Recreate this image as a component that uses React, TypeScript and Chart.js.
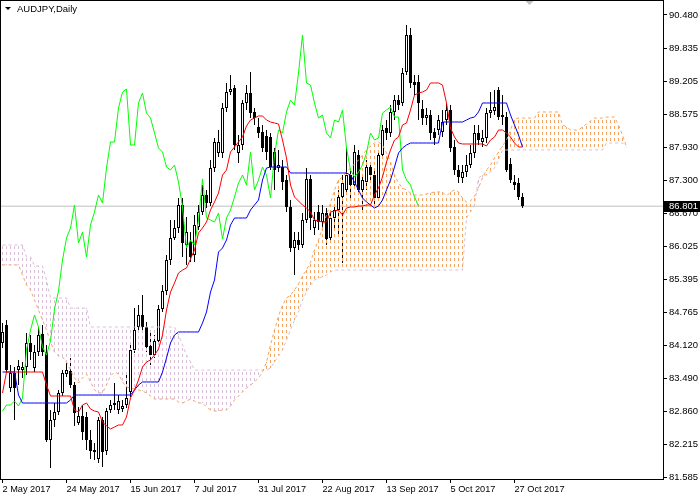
import React, { useEffect, useRef } from 'react';
import { Chart, registerables } from 'chart.js';

Chart.register(...registerables);

const symbolTitle = 'AUDJPY,Daily';
const dateTickBars = [0, 16, 32, 48, 64, 80, 96, 112, 128];
const dateTickLabels = ['2 May 2017', '24 May 2017', '15 Jun 2017', '7 Jul 2017', '31 Jul 2017', '22 Aug 2017', '13 Sep 2017', '5 Oct 2017', '27 Oct 2017'];
const priceTicks = [90.48, 89.835, 89.205, 88.575, 87.93, 87.3, 86.67, 86.025, 85.395, 84.765, 84.12, 83.49, 82.86, 82.215, 81.585];
const lastPrice = 86.801;
const chikouShift = 26;

const opens = [
  84.169, 84.515, 83.303, 83.592, 83.649, 83.649, 83.707, 84.169, 83.688, 83.996,
  84.342, 83.996, 82.303, 82.687, 82.841, 83.207, 83.573, 83.630, 83.361, 82.630,
  82.764, 82.745, 82.303, 82.110, 81.937, 82.687, 82.091, 82.880, 83.014, 82.880,
  82.899, 82.976, 83.226, 84.035, 84.477, 84.708, 84.477, 84.111, 83.938, 84.208,
  84.823, 85.169, 85.766, 86.189, 86.382, 86.824, 86.055, 86.112, 85.862, 86.401,
  86.690, 87.017, 86.863, 87.536, 87.825, 87.825, 88.691, 88.998, 89.075, 87.825,
  87.979, 88.787, 88.979, 88.614, 88.325, 88.229, 88.152, 88.133, 87.844, 87.536,
  87.555, 87.305, 86.786, 85.997, 86.151, 86.055, 86.536, 87.325, 86.382, 86.690,
  86.497, 86.670, 86.189, 86.574, 86.728, 86.978, 87.113, 87.401, 87.209, 87.786,
  87.113, 87.267, 87.555, 87.401, 86.959, 87.786, 88.306, 88.210, 88.614, 88.844,
  88.787, 89.383, 90.095, 89.191, 89.191, 88.671, 88.498, 88.556, 88.229, 88.267,
  88.229, 88.460, 88.652, 87.940, 87.498, 87.344, 87.459, 87.594, 87.825, 88.210,
  88.036, 88.113, 88.594, 88.633, 89.037, 88.556, 88.517, 87.613, 87.267, 87.248,
  86.978,
];
const highs = [
  84.554, 84.611, 83.746, 83.707, 83.842, 83.803, 84.361, 84.323, 84.131, 84.477,
  84.515, 84.131, 82.880, 83.014, 83.265, 83.649, 83.784, 83.880, 83.419, 82.937,
  82.976, 82.841, 82.495, 82.245, 82.745, 82.745, 82.918, 83.072, 83.399, 83.168,
  83.072, 83.592, 84.131, 84.842, 84.900, 85.092, 84.573, 84.361, 84.323, 84.900,
  85.285, 85.862, 86.536, 86.536, 86.959, 86.959, 86.593, 86.305, 86.632, 86.824,
  87.209, 87.113, 87.690, 88.113, 88.267, 88.787, 89.172, 89.326, 89.133, 88.171,
  88.844, 89.133, 89.383, 88.691, 88.498, 88.364, 88.267, 88.210, 87.921, 87.883,
  87.690, 87.401, 86.920, 86.305, 86.305, 86.670, 87.536, 87.401, 86.690, 86.824,
  86.824, 86.766, 86.728, 86.824, 87.113, 87.401, 87.940, 87.498, 87.979, 87.883,
  87.401, 87.690, 87.652, 87.498, 87.883, 88.364, 88.460, 88.748, 88.941, 88.941,
  89.460, 90.288, 90.230, 89.326, 89.326, 88.844, 88.691, 88.652, 88.306, 88.556,
  88.652, 88.787, 88.748, 88.075, 87.594, 87.594, 87.786, 87.979, 88.364, 88.364,
  88.267, 88.691, 88.998, 89.037, 89.095, 88.941, 88.614, 87.729, 87.401, 87.344,
  87.055,
];
const lows = [
  84.073, 83.611, 83.226, 82.687, 83.361, 83.496, 83.553, 83.842, 83.611, 83.919,
  83.919, 82.264, 81.764, 82.553, 82.783, 83.149, 83.515, 83.303, 82.572, 82.591,
  82.303, 82.110, 81.937, 81.918, 81.860, 81.783, 82.014, 82.822, 82.880, 82.803,
  82.841, 82.918, 83.130, 83.977, 84.419, 84.419, 83.996, 83.746, 83.880, 84.131,
  84.765, 85.092, 85.670, 86.151, 86.286, 85.824, 85.670, 85.727, 85.727, 86.343,
  86.632, 86.766, 86.805, 87.459, 87.748, 87.729, 88.614, 88.941, 87.883, 87.632,
  87.883, 88.652, 88.498, 88.364, 88.113, 87.844, 87.690, 87.498, 87.113, 87.459,
  87.113, 86.690, 85.920, 85.477, 85.958, 85.997, 86.478, 86.343, 86.247, 86.343,
  86.382, 86.055, 86.112, 86.382, 86.247, 85.708, 87.017, 86.920, 87.152, 87.017,
  86.728, 87.113, 87.305, 86.824, 86.920, 87.729, 88.075, 88.133, 88.460, 88.652,
  88.729, 89.326, 89.075, 88.941, 88.460, 88.364, 88.364, 88.075, 87.979, 88.171,
  88.133, 88.364, 87.844, 87.401, 87.248, 87.248, 87.363, 87.536, 87.729, 87.979,
  87.940, 88.017, 88.498, 88.556, 88.460, 88.364, 87.459, 87.248, 87.113, 86.920,
  86.766,
];
const closes = [
  84.381, 83.649, 83.592, 83.303, 83.726, 83.707, 84.169, 83.996, 83.996, 84.323,
  83.996, 82.303, 82.687, 82.841, 83.207, 83.592, 83.649, 83.361, 82.822, 82.764,
  82.457, 82.303, 82.091, 82.072, 82.687, 82.072, 82.860, 82.976, 82.976, 83.053,
  82.957, 83.111, 84.035, 84.419, 84.708, 84.477, 84.092, 83.938, 84.208, 84.823,
  85.169, 85.766, 86.189, 86.382, 86.824, 86.093, 86.305, 85.824, 86.439, 86.690,
  87.017, 86.863, 87.536, 88.036, 88.036, 88.691, 88.998, 89.056, 87.979, 87.979,
  88.787, 88.979, 88.594, 88.498, 88.210, 87.921, 87.844, 87.555, 87.498, 87.594,
  87.267, 86.786, 85.997, 86.151, 86.055, 86.536, 87.325, 86.574, 86.536, 86.497,
  86.670, 86.170, 86.574, 86.728, 86.978, 87.248, 87.401, 87.209, 87.844, 87.113,
  87.305, 87.555, 87.401, 86.959, 87.786, 88.267, 88.210, 88.614, 88.844, 88.748,
  89.364, 90.095, 89.172, 89.133, 88.787, 88.498, 88.556, 88.210, 88.113, 88.460,
  88.421, 88.652, 87.921, 87.498, 87.363, 87.459, 87.594, 87.825, 88.210, 88.075,
  88.113, 88.594, 88.652, 88.710, 88.517, 88.517, 87.498, 87.305, 87.209, 86.978,
  86.801,
];
const tenkan = [
  83.207, 83.611, 83.611, 83.611, 83.611, 83.611, 83.611, 83.611, 83.611, 83.611,
  83.611, 83.361, 83.149, 83.149, 83.149, 83.149, 83.149, 83.149, 82.880, 82.841,
  82.976, 83.014, 82.899, 82.860, 82.841, 82.649, 82.572, 82.514, 82.553, 82.591,
  82.591, 82.745, 83.111, 83.265, 83.457, 83.707, 83.803, 83.842, 83.938, 84.053,
  84.323, 84.804, 85.150, 85.324, 85.516, 85.573, 85.612, 85.785, 85.958, 86.286,
  86.382, 86.497, 86.728, 86.882, 87.055, 87.401, 87.498, 87.844, 87.940, 88.036,
  88.133, 88.344, 88.460, 88.498, 88.537, 88.537, 88.460, 88.421, 88.402, 88.383,
  88.075, 87.729, 87.209, 86.978, 86.901, 86.824, 86.766, 86.690, 86.536, 86.516,
  86.497, 86.497, 86.690, 86.709, 86.728, 86.632, 86.766, 86.786, 86.786, 86.805,
  86.805, 86.824, 86.824, 87.017, 87.152, 87.363, 87.652, 87.883, 88.075, 88.133,
  88.364, 88.402, 88.652, 88.941, 88.979, 88.998, 89.037, 89.172, 89.172, 89.172,
  89.133, 88.787, 88.306, 88.133, 88.017, 87.998, 87.998, 87.998, 87.998, 87.998,
  87.998, 87.959, 88.075, 88.133, 88.267, 88.267, 88.210, 88.133, 88.017, 87.940,
  87.940,
];
const kijun = [
  83.611, 83.611, 83.611, 83.611, 83.168, 83.014, 83.014, 83.014, 83.014, 83.014,
  83.014, 83.014, 83.014, 83.014, 83.014, 83.014, 83.014, 83.072, 83.168, 83.168,
  83.168, 83.168, 83.168, 83.168, 83.168, 83.168, 83.168, 83.168, 83.168, 83.168,
  83.168, 83.168, 83.168, 83.265, 83.361, 83.419, 83.419, 83.419, 83.419, 83.419,
  83.611, 83.880, 84.169, 84.323, 84.381, 84.381, 84.381, 84.381, 84.381, 84.381,
  84.554, 84.765, 85.150, 85.381, 85.920, 85.997, 86.151, 86.439, 86.574, 86.574,
  86.574, 86.574, 86.728, 86.824, 86.920, 87.305, 87.536, 87.555, 87.555, 87.555,
  87.555, 87.555, 87.440, 87.440, 87.440, 87.440, 87.440, 87.440, 87.440, 87.440,
  87.440, 87.440, 87.440, 87.440, 87.440, 87.440, 87.440, 87.401, 87.267, 87.113,
  86.959, 86.882, 86.824, 86.766, 86.805, 86.920, 87.113, 87.305, 87.555, 87.825,
  87.921, 87.979, 88.017, 88.017, 88.017, 88.017, 88.017, 88.017, 88.017, 88.017,
  88.421, 88.421, 88.421, 88.421, 88.421, 88.421, 88.460, 88.498, 88.517, 88.614,
  88.787, 88.787, 88.787, 88.787, 88.787, 88.787, 88.787, 88.556, 88.364, 88.171,
  87.940,
];
const spanA = [
  85.670, 85.670, 85.670, 85.670, 85.670, 85.477, 85.285, 85.189, 84.996, 84.804,
  84.611, 84.419, 84.188, 83.996, 83.919, 83.900, 83.803, 83.649, 83.496, 83.399,
  83.496, 83.573, 83.419, 83.265, 83.207, 83.207, 83.361, 83.534, 83.611, 83.573,
  83.419, 83.322, 83.303, 83.284, 83.265, 83.245, 83.207, 83.149, 83.091, 83.091,
  83.091, 83.091, 83.091, 83.091, 83.034, 83.014, 83.053, 83.091, 83.053, 83.014,
  83.014, 82.937, 82.880, 82.860, 82.860, 82.880, 82.880, 82.957, 83.072, 83.149,
  83.226, 83.303, 83.361, 83.419, 83.496, 83.611, 83.803, 84.131, 84.419, 84.688,
  84.900, 85.035, 85.092, 85.189, 85.304, 85.458, 85.573, 85.727, 85.958, 86.151,
  86.382, 86.632, 86.863, 87.113, 87.305, 87.363, 87.459, 87.536, 87.613, 87.690,
  87.786, 87.883, 87.959, 88.017, 88.036, 87.979, 87.825, 87.652, 87.401, 87.248,
  87.152, 87.113, 87.055, 87.017, 87.017, 87.017, 87.036, 87.055, 87.075, 87.075,
  87.075, 86.997, 87.075, 87.113, 87.075, 86.959, 86.882, 86.901, 86.997, 87.152,
  87.344, 87.498, 87.594, 87.729, 87.844, 87.959, 88.075, 88.267, 88.479, 88.498,
  88.498, 88.498, 88.498, 88.498, 88.614, 88.614, 88.614, 88.614, 88.614, 88.614,
  88.364, 88.325, 88.267, 88.267, 88.267, 88.325, 88.383, 88.440, 88.498, 88.498,
  88.498, 88.517, 88.517, 88.517, 88.364, 88.171, 87.940,
];
const spanB = [
  86.055, 86.055, 86.055, 86.055, 86.055, 86.055, 85.824, 85.824, 85.651, 85.651,
  85.651, 85.381, 85.035, 85.035, 85.035, 85.035, 85.035, 84.842, 84.842, 84.842,
  84.842, 84.842, 84.477, 84.477, 84.477, 84.477, 84.477, 84.477, 84.477, 84.477,
  84.477, 84.477, 84.477, 84.477, 84.477, 84.477, 84.477, 84.477, 84.477, 84.477,
  84.477, 84.477, 84.477, 84.477, 84.323, 84.131, 83.938, 83.803, 83.649, 83.649,
  83.649, 83.649, 83.649, 83.649, 83.649, 83.649, 83.649, 83.649, 83.649, 83.649,
  83.649, 83.649, 83.649, 83.649, 83.649, 83.649, 83.649, 83.688, 83.803, 83.919,
  84.035, 84.227, 84.419, 84.611, 84.765, 84.996, 85.150, 85.285, 85.381, 85.420,
  85.439, 85.477, 85.535, 85.573, 85.573, 85.573, 85.573, 85.573, 85.573, 85.573,
  85.573, 85.573, 85.573, 85.573, 85.573, 85.573, 85.573, 85.573, 85.573, 85.573,
  85.573, 85.573, 85.573, 85.573, 85.573, 85.573, 85.573, 85.573, 85.573, 85.573,
  85.573, 85.573, 85.573, 85.573, 85.573, 85.573, 86.574, 86.690, 86.824, 87.344,
  87.401, 87.401, 87.459, 87.536, 87.690, 87.883, 87.883, 87.883, 87.883, 87.883,
  87.883, 87.883, 87.883, 87.883, 87.883, 87.883, 87.883, 87.883, 87.883, 87.883,
  87.883, 87.883, 87.883, 87.883, 87.883, 87.883, 87.883, 87.883, 87.883, 87.883,
  87.883, 88.017, 88.017, 88.017, 88.017, 88.017, 87.940,
];

// axis window
const X_MIN = -0.625;
const X_MAX = 165.125;
const Y_MAX = 90.7686;
const Y_MIN = 81.5523;

const FONT = '"Liberation Sans", Arial, sans-serif';

export default function App() {
  const ref = useRef<HTMLCanvasElement | null>(null);

  useEffect(() => {
    const canvas = ref.current;
    if (!canvas) return;
    const mainCtx = canvas.getContext('2d') as CanvasRenderingContext2D;

    const makeHatch = (color: string) => {
      const c = document.createElement('canvas');
      c.width = 1;
      c.height = 6;
      const g = c.getContext('2d') as CanvasRenderingContext2D;
      g.fillStyle = color;
      g.fillRect(0, 0, 1, 3);
      return mainCtx.createPattern(c, 'repeat') as CanvasPattern;
    };
    const orangeHatch = makeHatch('#F4A460');
    const thistleHatch = makeHatch('#D8BFD8');

    const bodies = opens.map((o, i) => ({ x: i, y: [o, closes[i]] }));
    const bodyFill = opens.map((o, i) => (closes[i] >= o ? '#FFFFFF' : '#000000'));
    const wicks = lows.map((l, i) => ({ x: i, y: [l, highs[i]] }));
    const bullCloud: any[] = [];
    const bearCloud: any[] = [];
    spanA.forEach((a, j) => {
      const b = spanB[j];
      const item = { x: j, y: [Math.min(a, b), Math.max(a, b)] };
      if (a >= b) bullCloud.push(item);
      else bearCloud.push(item);
    });
    const line = (arr: number[], shift: number) =>
      arr.map((v, i) => ({ x: i + shift, y: v })).filter((p) => p.x >= 0);

    const overlay = {
      id: 'overlay',
      beforeDraw(chart: any) {
        const c = chart.ctx;
        c.save();
        c.fillStyle = '#FFFFFF';
        c.fillRect(0, 0, chart.width, chart.height);
        c.restore();
      },
      afterDraw(chart: any) {
        const c = chart.ctx as CanvasRenderingContext2D;
        const a = chart.chartArea;
        c.save();
        c.strokeStyle = '#000000';
        c.lineWidth = 1;
        c.strokeRect(a.left + 0.5, a.top + 0.5, a.right - a.left, a.bottom - a.top);
        // title
        c.fillStyle = '#000000';
        c.beginPath();
        c.moveTo(5, 7);
        c.lineTo(11, 7);
        c.lineTo(8, 10);
        c.closePath();
        c.fill();
        c.font = '9.5px ' + FONT;
        c.textBaseline = 'middle';
        c.textAlign = 'left';
        c.fillText(symbolTitle, 17, 9);
        // shift marker
        const sx = chart.scales.x.getPixelForValue(opens.length - 1) + 7;
        c.fillStyle = '#C0C0C0';
        c.beginPath();
        c.moveTo(sx - 4, 1);
        c.lineTo(sx + 4, 1);
        c.lineTo(sx, 5);
        c.closePath();
        c.fill();
        // last price box
        const py = Math.round(chart.scales.y.getPixelForValue(lastPrice));
        c.fillStyle = '#000000';
        c.fillRect(a.right + 1, py - 5, chart.width - a.right - 1, 11);
        c.fillStyle = '#FFFFFF';
        c.font = '9.5px ' + FONT;
        c.textBaseline = 'middle';
        c.fillText(lastPrice.toFixed(3), a.right + 6, py + 0.5);
        c.restore();
      },
    };

    const barCommon = {
      grouped: false,
      inflateAmount: 0,
      borderSkipped: false,
    };

    const chart = new Chart(canvas, {
      type: 'bar',
      data: {
        datasets: [
          {
            type: 'line',
            label: 'Tenkan-sen',
            data: line(tenkan, 0),
            borderColor: '#FF0000',
            borderWidth: 1,
            pointRadius: 0,
            tension: 0,
            order: 0,
          } as any,
          {
            type: 'line',
            label: 'Kijun-sen',
            data: line(kijun, 0),
            borderColor: '#0000FF',
            borderWidth: 1,
            pointRadius: 0,
            tension: 0,
            order: 0,
          } as any,
          {
            type: 'line',
            label: 'Chikou Span',
            data: line(closes, -chikouShift),
            borderColor: '#00FF00',
            borderWidth: 1,
            pointRadius: 0,
            tension: 0,
            order: 0,
          } as any,
          {
            type: 'line',
            label: 'Senkou Span A',
            data: line(spanA, 0),
            borderColor: '#F4A460',
            borderWidth: 1,
            borderDash: [3, 3],
            pointRadius: 0,
            tension: 0,
            order: 1,
          } as any,
          {
            type: 'line',
            label: 'Senkou Span B',
            data: line(spanB, 0),
            borderColor: '#D8BFD8',
            borderWidth: 1,
            borderDash: [3, 3],
            pointRadius: 0,
            tension: 0,
            order: 1,
          } as any,
          {
            type: 'bar',
            label: 'Bodies',
            data: bodies,
            backgroundColor: bodyFill,
            borderColor: '#000000',
            borderWidth: 1,
            barThickness: 3,
            minBarLength: 1,
            order: 2,
            ...barCommon,
          } as any,
          {
            type: 'bar',
            label: 'Cloud up',
            data: bullCloud,
            backgroundColor: orangeHatch,
            borderWidth: 0,
            barThickness: 1,
            order: 3,
            ...barCommon,
          } as any,
          {
            type: 'bar',
            label: 'Cloud down',
            data: bearCloud,
            backgroundColor: thistleHatch,
            borderWidth: 0,
            barThickness: 1,
            order: 3,
            ...barCommon,
          } as any,
          {
            type: 'bar',
            label: 'Wicks',
            data: wicks,
            backgroundColor: '#000000',
            borderWidth: 0,
            barThickness: 1,
            minBarLength: 1,
            order: 4,
            ...barCommon,
          } as any,
          {
            type: 'line',
            label: 'Bid',
            data: [
              { x: X_MIN, y: lastPrice },
              { x: X_MAX, y: lastPrice },
            ],
            borderColor: '#C0C0C0',
            borderWidth: 1,
            pointRadius: 0,
            order: 5,
          } as any,
        ],
      },
      options: {
        animation: false,
        responsive: false,
        maintainAspectRatio: false,
        devicePixelRatio: 1,
        events: [],
        layout: { padding: 0 },
        plugins: {
          legend: { display: false },
          tooltip: { enabled: false },
          title: { display: false },
        },
        scales: {
          x: {
            type: 'linear',
            min: X_MIN,
            max: X_MAX,
            offset: false,
            grid: {
              display: true,
              drawOnChartArea: false,
              drawTicks: true,
              tickLength: 4,
              color: '#000000',
              offset: false,
            },
            border: { display: false },
            ticks: {
              autoSkip: false,
              maxRotation: 0,
              minRotation: 0,
              align: 'start',
              padding: 1,
              color: '#000000',
              font: { family: FONT, size: 9.2 },
              callback: (v: any) => {
                const k = dateTickBars.indexOf(Number(v));
                return k >= 0 ? dateTickLabels[k] : '';
              },
            },
            afterBuildTicks: (s: any) => {
              s.ticks = dateTickBars.map((v) => ({ value: v }));
            },
            afterFit: (s: any) => {
              s.height = 21;
              s.paddingLeft = 0;
              s.paddingRight = 0;
            },
          } as any,
          y: {
            type: 'linear',
            position: 'right',
            min: Y_MIN,
            max: Y_MAX,
            grid: {
              display: true,
              drawOnChartArea: false,
              drawTicks: true,
              tickLength: 4,
              color: '#000000',
            },
            border: { display: false },
            ticks: {
              padding: 2,
              color: '#000000',
              font: { family: FONT, size: 9.5 },
              callback: (v: any) => Number(v).toFixed(3),
            },
            afterBuildTicks: (s: any) => {
              s.ticks = priceTicks.map((v) => ({ value: v }));
            },
            afterFit: (s: any) => {
              s.width = 37;
              s.paddingTop = 0;
              s.paddingBottom = 0;
            },
          } as any,
        },
      } as any,
      plugins: [overlay],
    });

    return () => {
      chart.destroy();
    };
  }, []);

  return (
    <div style={{ position: 'fixed', left: 0, top: 0, width: 700, height: 500, background: '#FFFFFF' }}>
      <canvas ref={ref} width={700} height={500} style={{ display: 'block' }} />
    </div>
  );
}
